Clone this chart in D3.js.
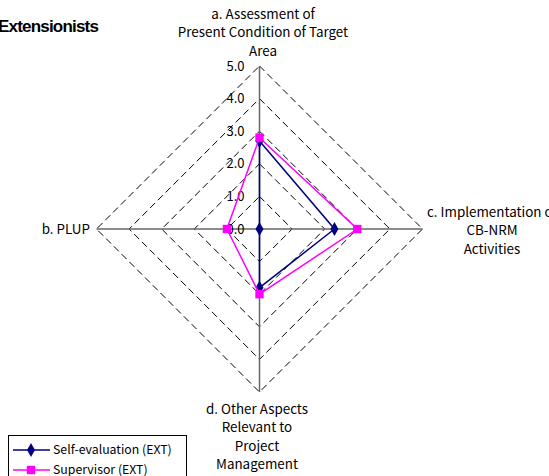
<!DOCTYPE html>
<html>
<head>
<meta charset="utf-8">
<script src="https://cdn.jsdelivr.net/npm/d3@7"></script>
<style>
  body { margin: 0; background: #fff; }
  text { font-family: "Noto Sans CJK JP", "Liberation Sans", sans-serif; fill: #000; }
</style>
</head>
<body>
<svg></svg>
<script>
let width = 549;
let height = 476;

// data
let axes = ['a', 'c', 'd', 'b'];
let axisLabels = [
    ['a. Assessment of', 'Present Condition of Target', 'Area'],
    ['c. Implementation of', 'CB-NRM', 'Activities'],
    ['d. Other Aspects', 'Relevant to', 'Project', 'Management'],
    ['b. PLUP']
];
let selfValues = [2.7, 2.3, 1.8, 0.0];
let supervisorValues = [2.8, 3.0, 2.0, 1.0];
let seriesNames = ['Self-evaluation (EXT)', 'Supervisor (EXT)'];
let ticks = [0, 1, 2, 3, 4, 5];

let svg = d3.select('svg')
    .attr('width', width)
    .attr('height', height)

let cx = 259.5;
let cy = 229;

let r = d3.scaleLinear()
    .domain([0, 5])
    .range([0, 163]);

// angle per axis: top, right, bottom, left
let angle = d3.scaleOrdinal()
    .domain([0, 1, 2, 3])
    .range([-Math.PI / 2, 0, Math.PI / 2, Math.PI]);

function pt(i, v) {
    let a = angle(i);
    return [cx + r(v) * Math.cos(a), cy + r(v) * Math.sin(a)];
}

// dashed grid diamonds
svg.append('g').selectAll('path')
    .data(ticks.slice(1))
    .enter()
    .append('path')
    .attr('d', function (t) {
        return d3.line()(axes.map((a, i) => pt(i, t))) + 'Z';
    })
    .attr('fill', 'none')
    .attr('stroke', '#000')
    .attr('stroke-width', 1)
    .attr('stroke-dasharray', '7,4')

// axis spokes
svg.append('g').selectAll('line')
    .data(axes)
    .enter()
    .append('line')
    .attr('x1', cx)
    .attr('y1', cy)
    .attr('x2', (d, i) => pt(i, 5)[0])
    .attr('y2', (d, i) => pt(i, 5)[1])
    .attr('stroke', '#666')
    .attr('stroke-width', 1.5)

// tick labels along the top axis
svg.append('g').selectAll('text')
    .data(ticks)
    .enter()
    .append('text')
    .attr('x', cx - 15)
    .attr('y', d => cy - r(d))
    .attr('dy', '0.35em')
    .attr('text-anchor', 'end')
    .style('font-size', '13px')
    .text(d => d.toFixed(1))

// axis labels
let labelPos = [
    {x: 263, y: 14, anchor: 'middle'},
    {x: 492, y: 212, anchor: 'middle'},
    {x: 257, y: 409, anchor: 'middle'},
    {x: 90, y: 229, anchor: 'end'}
];
axisLabels.forEach(function (lines, i) {
    let t = svg.append('text')
        .attr('x', labelPos[i].x)
        .attr('y', labelPos[i].y)
        .attr('text-anchor', labelPos[i].anchor)
        .style('font-size', '13.4px')
    t.selectAll('tspan')
        .data(lines)
        .enter()
        .append('tspan')
        .attr('x', labelPos[i].x)
        .attr('dy', (d, j) => j == 0 ? '0.35em' : '18.5px')
        .text(d => d)
});

// series
let series = [
    {name: seriesNames[0], values: selfValues, color: '#000080', shape: d3.symbolDiamond, size: 55},
    {name: seriesNames[1], values: supervisorValues, color: '#FF00FF', shape: d3.symbolSquare, size: 70}
];

series.forEach(function (s) {
    let pts = s.values.map((v, i) => pt(i, v));
    svg.append('path')
        .attr('d', d3.line()(pts) + 'Z')
        .attr('fill', 'none')
        .attr('stroke', s.color)
        .attr('stroke-width', 1.5)
    svg.append('g').selectAll('path')
        .data(pts)
        .enter()
        .append('path')
        .attr('transform', d => 'translate(' + d[0] + ',' + d[1] + ')')
        .attr('d', d3.symbol().type(s.shape).size(s.size))
        .attr('fill', s.color)
});

// title
svg.append('text')
    .attr('x', -2)
    .attr('y', 26)
    .attr('dy', '0.35em')
    .style('font-family', '"Liberation Sans", Arial, sans-serif')
    .style('font-weight', 'bold')
    .style('font-size', '17px')
    .style('letter-spacing', '-0.8px')
    .text('Extensionists')

// legend
let legend = svg.append('g')
legend.append('rect')
    .attr('x', 8.5)
    .attr('y', 435.5)
    .attr('width', 178)
    .attr('height', 60)
    .attr('fill', '#fff')
    .attr('stroke', '#000')
    .attr('stroke-width', 1)

let rows = legend.selectAll('g')
    .data(series)
    .enter()
    .append('g')
    .attr('transform', (d, i) => 'translate(0,' + (450 + i * 20) + ')')
rows.append('line')
    .attr('x1', 13)
    .attr('x2', 50)
    .attr('stroke', d => d.color)
    .attr('stroke-width', 1.5)
rows.append('path')
    .attr('transform', 'translate(31,0)')
    .attr('d', d => d3.symbol().type(d.shape).size(d.size)())
    .attr('fill', d => d.color)
rows.append('text')
    .attr('x', 53)
    .attr('dy', '0.35em')
    .style('font-size', '12.3px')
    .text(d => d.name)
</script>
</body>
</html>
